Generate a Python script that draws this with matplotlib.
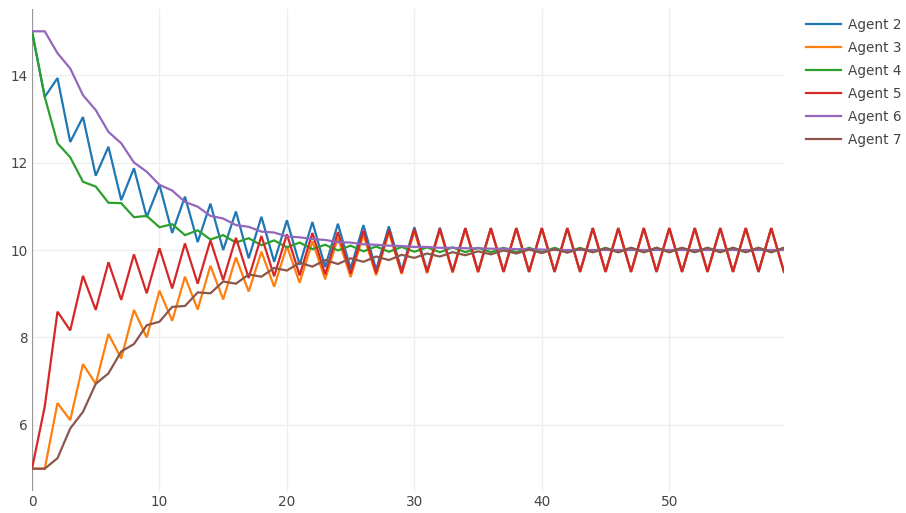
import matplotlib
matplotlib.use('Agg')
from matplotlib import pyplot as plt

# iteration steps
steps = list(range(60))

agent2 = [15.0, 13.5, 13.93, 12.47, 13.04, 11.7, 12.36, 11.14, 11.87, 10.75,
          11.49, 10.39, 11.22, 10.18, 11.06, 10.0, 10.88, 9.81, 10.76, 9.73,
          10.68, 9.66, 10.64, 9.61, 10.6, 9.57, 10.57, 9.55, 10.54, 9.53,
          10.52, 9.52, 10.51, 9.51, 10.5, 9.5, 10.5, 9.5, 10.5, 9.5,
          10.5, 9.5, 10.5, 9.5, 10.5, 9.5, 10.5, 9.5, 10.5, 9.5,
          10.5, 9.5, 10.5, 9.5, 10.5, 9.5, 10.5, 9.5, 10.5, 9.5]
agent3 = [5.0, 5.0, 6.5, 6.11, 7.39, 6.94, 8.08, 7.52, 8.63, 8.0,
          9.07, 8.38, 9.39, 8.64, 9.64, 8.87, 9.83, 9.05, 9.96, 9.16,
          10.09, 9.25, 10.2, 9.33, 10.28, 9.38, 10.35, 9.42, 10.4, 9.45,
          10.43, 9.47, 10.46, 9.48, 10.48, 9.49, 10.49, 9.5, 10.5, 9.5,
          10.5, 9.5, 10.5, 9.5, 10.5, 9.5, 10.5, 9.5, 10.5, 9.5,
          10.5, 9.5, 10.5, 9.5, 10.5, 9.5, 10.5, 9.5, 10.5, 9.5]
agent4 = [15.0, 13.5, 12.44, 12.12, 11.56, 11.45, 11.08, 11.07, 10.75, 10.78,
          10.52, 10.59, 10.34, 10.45, 10.24, 10.34, 10.17, 10.27, 10.11, 10.22,
          10.06, 10.17, 10.02, 10.12, 9.99, 10.1, 9.97, 10.08, 9.96, 10.07,
          9.96, 10.06, 9.95, 10.06, 9.95, 10.05, 9.95, 10.05, 9.95, 10.05,
          9.95, 10.05, 9.95, 10.05, 9.95, 10.05, 9.95, 10.05, 9.95, 10.05,
          9.95, 10.05, 9.95, 10.05, 9.95, 10.05, 9.95, 10.05, 9.95, 10.05]
agent5 = [5.0, 6.42, 8.59, 8.16, 9.41, 8.63, 9.72, 8.86, 9.9, 9.01,
          10.04, 9.12, 10.15, 9.23, 10.22, 9.31, 10.28, 9.36, 10.32, 9.4,
          10.36, 9.42, 10.39, 9.44, 10.41, 9.46, 10.44, 9.47, 10.46, 9.48,
          10.48, 9.49, 10.49, 9.5, 10.5, 9.5, 10.5, 9.5, 10.5, 9.5,
          10.5, 9.5, 10.5, 9.5, 10.5, 9.5, 10.5, 9.5, 10.5, 9.5,
          10.5, 9.5, 10.5, 9.5, 10.5, 9.5, 10.5, 9.5, 10.5, 9.5]
agent6 = [15.0, 15.0, 14.5, 14.15, 13.54, 13.2, 12.7, 12.44, 12.0, 11.79,
          11.49, 11.36, 11.1, 10.99, 10.78, 10.72, 10.57, 10.53, 10.42, 10.4,
          10.31, 10.29, 10.25, 10.23, 10.18, 10.17, 10.13, 10.12, 10.1, 10.09,
          10.07, 10.07, 10.05, 10.05, 10.04, 10.04, 10.03, 10.03, 10.02, 10.02,
          10.01, 10.0, 10.0, 10.0, 10.0, 10.0, 10.0, 10.0, 10.0, 10.0,
          10.0, 10.0, 10.0, 10.0, 10.0, 10.0, 10.0, 10.0, 10.0, 10.0]
agent7 = [5.0, 5.0, 5.24, 5.92, 6.3, 6.94, 7.18, 7.68, 7.85, 8.28,
          8.36, 8.7, 8.72, 9.03, 9.01, 9.28, 9.23, 9.44, 9.39, 9.59,
          9.53, 9.71, 9.62, 9.77, 9.68, 9.81, 9.73, 9.85, 9.77, 9.89,
          9.82, 9.92, 9.85, 9.95, 9.88, 9.97, 9.9, 9.99, 9.92, 10.01,
          9.93, 10.02, 9.94, 10.03, 9.95, 10.04, 9.95, 10.05, 9.95, 10.05,
          9.95, 10.05, 9.95, 10.05, 9.95, 10.05, 9.95, 10.05, 9.95, 10.05]

labels = ['Agent 2', 'Agent 3', 'Agent 4', 'Agent 5', 'Agent 6', 'Agent 7']
colors = ['#1f77b4', '#ff7f0e', '#2ca02c', '#d62728', '#9467bd', '#8c564b']
series = [agent2, agent3, agent4, agent5, agent6, agent7]

plt.rcParams['font.family'] = ['DejaVu Sans']

fig = plt.figure(figsize=(9.06, 5.13), dpi=100)
ax = fig.add_axes([32 / 906, 1 - 491 / 513, 752 / 906, 482 / 513])

for vals, lab, col in zip(series, labels, colors):
    ax.plot(steps, vals, color=col, lw=1.6, label=lab, solid_joinstyle='miter')

ax.set_xlim(0, 59)
ax.set_ylim(4.49, 15.51)
ax.set_xticks([0, 10, 20, 30, 40, 50])
ax.set_yticks([6, 8, 10, 12, 14])
ax.grid(True, color='#eeeeee', lw=1)
ax.set_axisbelow(True)
for s in ax.spines.values():
    s.set_visible(False)
ax.axvline(0, color='#999999', lw=1.6, zorder=1)
ax.tick_params(length=0, labelsize=9.8, colors='#444444', pad=3)

ax.legend(loc='upper left', bbox_to_anchor=(806 / 906, 1 - 18 / 513),
          bbox_transform=fig.transFigure, frameon=False, fontsize=9.8,
          handlelength=2.6, handletextpad=0.45, labelspacing=0.66,
          borderpad=0, borderaxespad=0, labelcolor='#444444')

plt.savefig('out.png', dpi=100)
plt.close()
